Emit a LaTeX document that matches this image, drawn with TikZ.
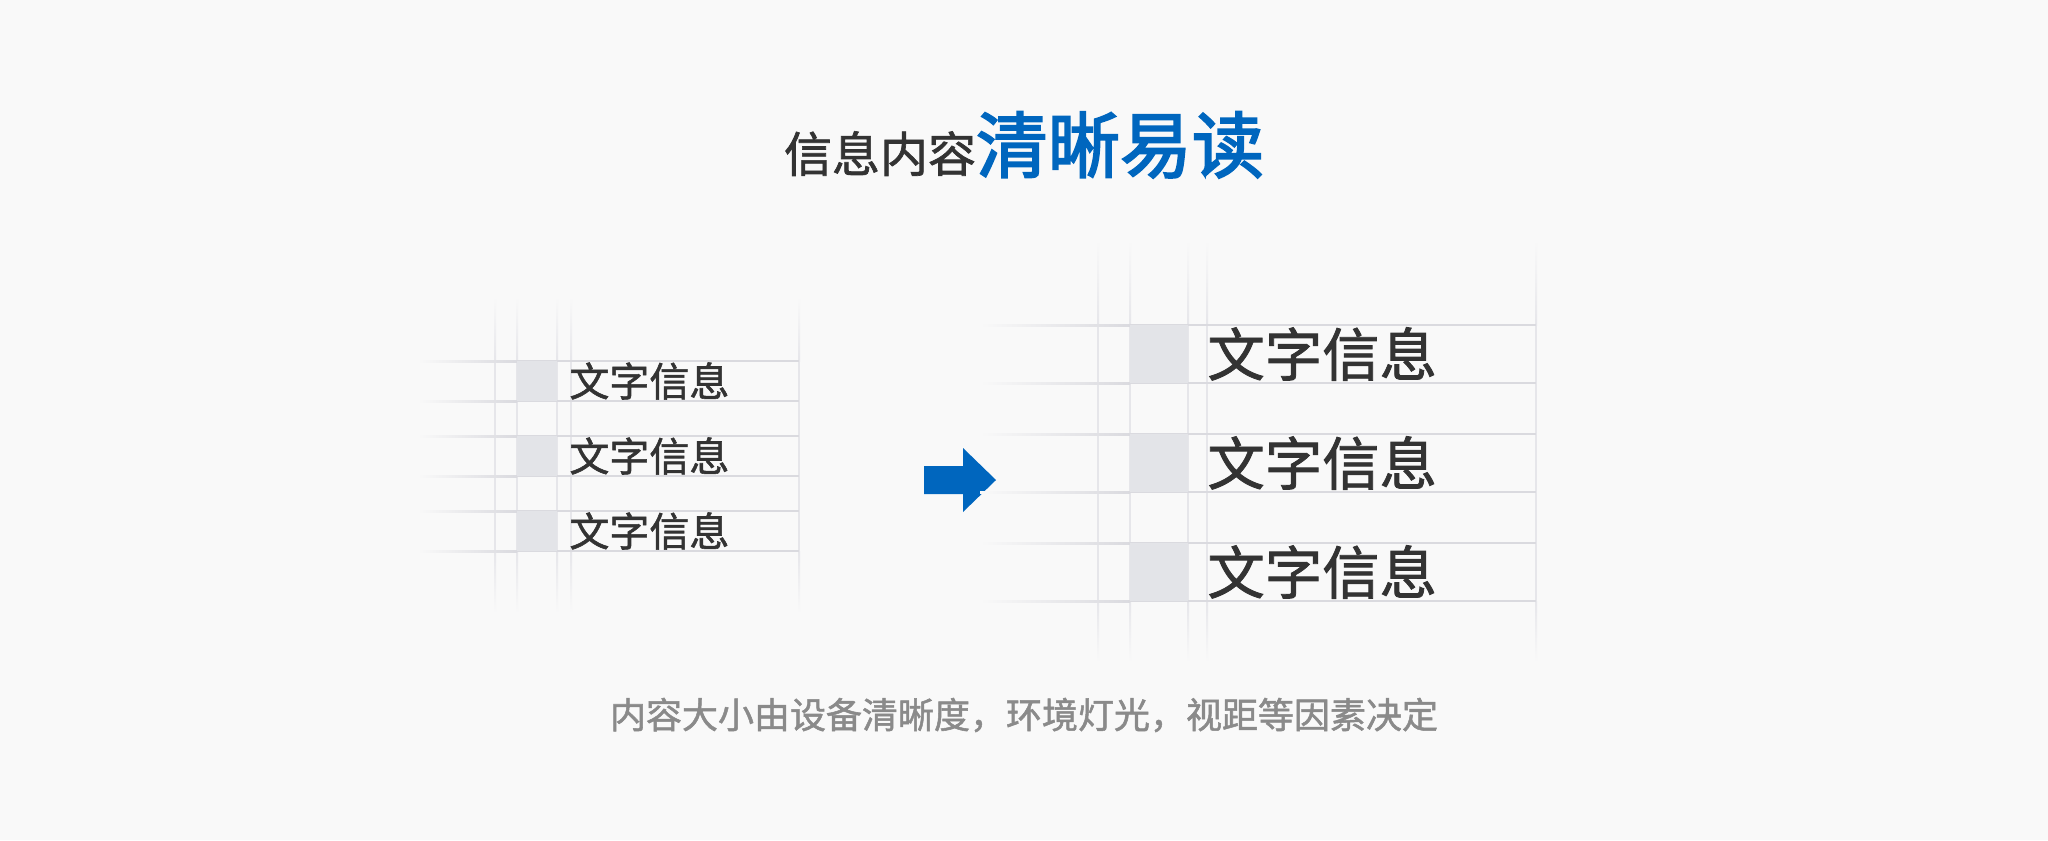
\documentclass[tikz,border=0pt]{standalone}
\usepackage{fontspec}
\usepackage{xcolor}
\usepackage{tikz}
\usetikzlibrary{positioning}
\newfontfamily\cjk{Noto Sans CJK SC}[FakeBold=1.4]
\newfontfamily\cjkhead{Noto Sans CJK SC}[FakeBold=2.6]
\definecolor{PageBg}{HTML}{F9F9F9}
\definecolor{GridV}{HTML}{E6E6EA}
\definecolor{GridH}{HTML}{DADADF}
\definecolor{CellGrey}{HTML}{E3E4E8}
\definecolor{TextInk}{HTML}{333333}
\definecolor{TitleBlue}{HTML}{0066BE}
\definecolor{NoteGrey}{HTML}{8A8A8A}

% faded grid lines: x, fade top, top, bottom, fade bottom
\newcommand{\vgrid}[5]{%
  \shade[top color=PageBg, bottom color=GridV] (#1-1,#2) rectangle (#1+1,#3);
  \fill[GridV] (#1-1,#3) rectangle (#1+1,#4);
  \shade[top color=GridV, bottom color=PageBg] (#1-1,#4) rectangle (#1+1,#5);}
% y, fade start, solid start, end
\newcommand{\hgrid}[4]{%
  \shade[left color=PageBg, right color=GridH] (#2,#1-1) rectangle (#3,#1+1);
  \fill[GridH] (#3,#1-1) rectangle (#4,#1+1);}

\begin{document}
\begin{tikzpicture}[x=0.5pt, y=-0.5pt,
            cellS/.style={rectangle, fill=CellGrey, inner sep=0pt,
                          minimum width=20pt, minimum height=20pt},
            cellL/.style={rectangle, fill=CellGrey, inner sep=0pt,
                          minimum width=29pt, minimum height=29pt},
            txtS/.style={anchor=west, inner sep=0pt, text=TextInk,
                         font=\cjk\fontsize{20}{24}\selectfont},
            txtL/.style={anchor=west, inner sep=0pt, text=TextInk,
                         font=\cjk\fontsize{28.7}{34}\selectfont}
          ]
          \fill[PageBg] (0,0) rectangle (2048,840);
          \useasboundingbox (0,0) rectangle (2048,840);

          % Title
          \node[anchor=base, inner sep=0pt] (title) at (1024,172)
                {{\cjk\color{TextInk}\fontsize{24}{28}\selectfont 信息内容}{\cjkhead\color{TitleBlue}\fontsize{36}{42}\selectfont 清晰易读}};

          % Small table
          \foreach \x in {495,517,557,571,799}
            \vgrid{\x}{297}{361}{551}{613};
          \foreach \y in {361,401,436,476,511,551}
            \hgrid{\y}{418}{517}{799};
          \node[cellS] (smallA) at (537,381) {};
          \node[cellS] (smallB) at (537,456) {};
          \node[cellS] (smallC) at (537,531) {};
          \node[txtS] (smallTxtA) at (569,381) {文字信息};
          \node[txtS] (smallTxtB) at (569,456) {文字信息};
          \node[txtS] (smallTxtC) at (569,531) {文字信息};

          % Arrow
          \fill[TitleBlue] (924,466) -- (963,466) -- (963,448) -- (996,480)
                -- (963,512) -- (963,494) -- (924,494) -- cycle;

          % Large table
          \foreach \x in {1098,1130,1188,1207,1536}
            \vgrid{\x}{240}{325}{601}{662};
          \foreach \y in {325,383,434,492,543,601}
            \hgrid{\y}{980}{1130}{1536};
          \node[cellL] (largeA) at (1159,354) {};
          \node[cellL] (largeB) at (1159,463) {};
          \node[cellL] (largeC) at (1159,572) {};
          \node[txtL] (largeTxtA) at (1207,354) {文字信息};
          \node[txtL] (largeTxtB) at (1207,463) {文字信息};
          \node[txtL] (largeTxtC) at (1207,572) {文字信息};

          % Note
          \node[text=NoteGrey, font=\cjk\fontsize{18}{22}\selectfont] (note) at (1024,715)
                {内容大小由设备清晰度，环境灯光，视距等因素决定};
        \end{tikzpicture}
\end{document}
